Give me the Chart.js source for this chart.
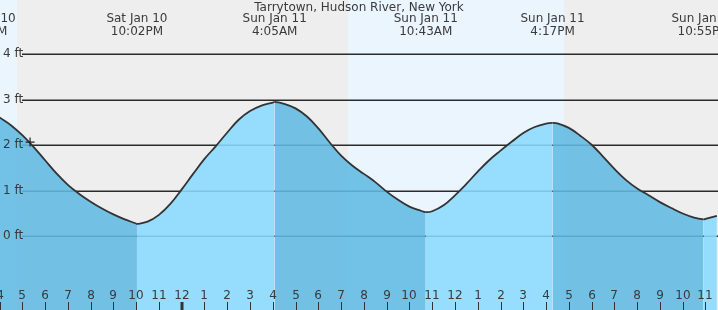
<!DOCTYPE html>
<html>
<head>
<meta charset="utf-8">
<script src="https://cdn.jsdelivr.net/npm/chart.js@4.4.1/dist/chart.umd.min.js"></script>
<style>
html,body{margin:0;padding:0;background:#fff;overflow:hidden;}
#wrap{width:718px;height:310px;position:relative;}
</style>
</head>
<body>
<div id="wrap"><canvas id="c" width="718" height="310"></canvas></div>
<script>
// ---- DATA (hours since Sat Jan 10 00:00, height in ft) ----
const chartTitle = "Tarrytown, Hudson River, New York";
const tideTimes = [16.0,16.5,17.0,17.5,18.0,18.5,19.0,19.5,20.0,20.5,21.0,21.5,22.0,22.033,22.5,23.0,23.5,
  24.0,24.5,25.0,25.5,26.0,26.5,27.0,27.5,28.0,28.083,28.5,29.0,29.5,30.0,30.5,31.0,31.5,32.0,32.5,33.0,33.5,
  34.0,34.5,34.717,35.0,35.5,36.0,36.5,37.0,37.5,38.0,38.5,39.0,39.5,40.0,40.283,40.5,41.0,41.5,42.0,42.5,
  43.0,43.5,44.0,44.5,45.0,45.5,46.0,46.5,46.917,47.0,47.5];
const tideHeights = [2.61,2.44,2.22,1.96,1.67,1.38,1.13,0.93,0.76,0.61,0.48,0.37,0.28,0.27,0.32,0.47,0.71,
  1.03,1.37,1.70,1.98,2.28,2.56,2.75,2.87,2.935,2.95,2.91,2.81,2.63,2.37,2.06,1.77,1.55,1.37,1.19,0.98,0.80,
  0.65,0.56,0.53,0.55,0.68,0.90,1.15,1.42,1.67,1.88,2.08,2.27,2.40,2.475,2.49,2.48,2.38,2.21,2.01,1.75,
  1.48,1.24,1.05,0.90,0.75,0.62,0.50,0.41,0.37,0.38,0.45];
const extremeTimes = [15.37, 22.033, 28.083, 34.717, 40.283, 46.917];
const extremeDays  = ["Sat Jan 10","Sat Jan 10","Sun Jan 11","Sun Jan 11","Sun Jan 11","Sun Jan 11"];
const extremeClock = ["3:22PM","10:02PM","4:05AM","10:43AM","4:17PM","10:55PM"];
const dayStarts = [14.0, 31.3];   // sunrise
const dayEnds   = [16.77, 40.79]; // sunset
const nowTime = [17.34];
const nowHeight = [2.07];
const yTickValues = [0,1,2,3,4];
const yTickLabels = ["0 ft","1 ft","2 ft","3 ft","4 ft"];
const hourTickValues = [16,17,18,19,20,21,22,23,24,25,26,27,28,29,30,31,32,33,34,35,36,37,38,39,40,41,42,43,44,45,46,47];
const hourTickLabels = ["4","5","6","7","8","9","10","11","12","1","2","3","4","5","6","7","8","9","10","11","12","1","2","3","4","5","6","7","8","9","10","11"];
const midnightTicks = [24];

// ---- styles ----
const FONT = '12px "DejaVu Sans", sans-serif';
const TEXT = '#3a3a3a';
const NIGHT_BG = '#eeeeee';
const DAY_BG = '#ebf5fe';
const FALL_FILL = 'rgba(97,186,227,0.88)';
const RISE_FILL = 'rgba(138,218,254,0.88)';

const points = tideTimes.map((t,i)=>({x:t,y:tideHeights[i]}));
const nowPts = nowTime.map((t,i)=>({x:t,y:nowHeight[i]}));

const bgPlugin = {
  id:'bg',
  beforeDatasetsDraw(chart){
    const {ctx, chartArea:a, scales:{x,y}} = chart;
    ctx.save();
    ctx.fillStyle = NIGHT_BG;
    ctx.fillRect(a.left,a.top,a.right-a.left,a.bottom-a.top);
    ctx.fillStyle = DAY_BG;
    for(let i=0;i<dayStarts.length;i++){
      const x0 = Math.max(a.left, x.getPixelForValue(dayStarts[i]));
      const x1 = Math.min(a.right, x.getPixelForValue(dayEnds[i]));
      if(x1>x0) ctx.fillRect(Math.round(x0),a.top,Math.round(x1)-Math.round(x0),a.bottom-a.top);
    }
    // grid lines
    ctx.strokeStyle = '#2b2b2b';
    ctx.lineWidth = 1.5;
    yTickValues.forEach(v=>{
      const py = Math.round(y.getPixelForValue(v))+0.25;
      ctx.beginPath(); ctx.moveTo(22,py); ctx.lineTo(a.right,py); ctx.stroke();
    });
    ctx.restore();
  },
  afterDatasetsDraw(chart){
    const {ctx, chartArea:a, scales:{x,y}} = chart;
    ctx.save();
    ctx.font = FONT;
    ctx.fillStyle = TEXT;
    // y labels
    ctx.textAlign='left'; ctx.textBaseline='middle';
    yTickValues.forEach((v,i)=>{
      ctx.fillText(yTickLabels[i], 3, y.getPixelForValue(v));
    });
    // hour ticks
    ctx.textAlign='center';
    ctx.strokeStyle = '#333';
    hourTickValues.forEach((h,i)=>{
      const px = Math.round(x.getPixelForValue(h));
      ctx.fillText(hourTickLabels[i], px, 296);
      const bold = midnightTicks.includes(h);
      ctx.lineWidth = bold ? 3 : 1;
      ctx.beginPath();
      ctx.moveTo(bold ? px : px+0.5, 302); ctx.lineTo(bold ? px : px+0.5, 310); ctx.stroke();
    });
    // title
    ctx.fillText(chartTitle, 359, 8);
    // extremes
    extremeTimes.forEach((t,i)=>{
      const px = x.getPixelForValue(t);
      ctx.fillText(extremeDays[i], px, 19);
      ctx.fillText(extremeClock[i], px, 32);
    });
    ctx.restore();
  }
};

new Chart(document.getElementById('c'), {
  type:'line',
  data:{
    datasets:[
      {
        data: nowPts,
        showLine:false,
        pointStyle:'cross',
        pointRadius:4.5,
        borderColor:'#222',
        borderWidth:1.2,
        fill:false,
        clip:false,
        order:0
      },
      {
        data: points,
        borderColor:'#333',
        borderWidth:1.8,
        pointRadius:0,
        tension:0.4,
        fill:'start',
        backgroundColor: FALL_FILL,
        segment:{
          backgroundColor: c => c.p1.parsed.y < c.p0.parsed.y ? FALL_FILL : RISE_FILL
        },
        order:1
      }
    ]
  },
  options:{
    responsive:false,
    animation:false,
    events:[],
    layout:{padding:0, autoPadding:false},
    plugins:{legend:{display:false},tooltip:{enabled:false},title:{display:false}},
    scales:{
      x:{type:'linear',min:16.02,max:47.55,display:false},
      y:{type:'linear',min:-1.62,max:5.19,display:false}
    }
  },
  plugins:[bgPlugin]
});
</script>
</body>
</html>
